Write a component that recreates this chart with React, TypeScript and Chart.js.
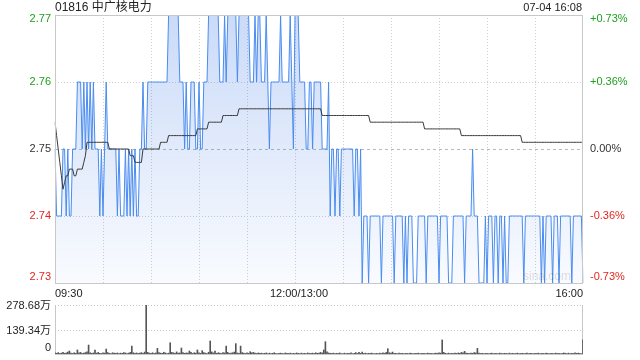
import React, { useEffect, useRef } from "react";
import { Chart, registerables } from "chart.js";

Chart.register(...registerables);

const title = "01816 中广核电力";
const stamp = "07-04 16:08";
const prevClose = 2.75;
const priceTicks = [2.77, 2.76, 2.75, 2.74, 2.73];
const pctLabels = ["+0.73%", "+0.36%", "0.00%", "-0.36%", "-0.73%"];
const volTicks = [278.68, 139.34, 0];
const volLabels = ["278.68万", "139.34万", "0"];
const xLabels = ["09:30", "12:00/13:00", "16:00"];
const xLabelIdx = [0, 150, 330];
const gridIdx = [30, 60, 90, 120, 150, 180, 210, 240, 270, 300];

// minute labels 09:30..12:00, 13:01..16:00
const times: string[] = [];
for (let m = 570; m <= 960; m++) {
  if (m > 720 && m <= 780) continue;
  const h = Math.floor(m / 60);
  const mm = m % 60;
  times.push(String(h).padStart(2, "0") + ":" + String(mm).padStart(2, "0"));
}

const price = [
  2.75, 2.74, 2.74, 2.74, 2.74, 2.75, 2.75, 2.74, 2.75, 2.74,
  2.74, 2.75, 2.75, 2.75, 2.76, 2.76, 2.76, 2.75, 2.76, 2.75,
  2.76, 2.75, 2.76, 2.75, 2.76, 2.75, 2.75, 2.75, 2.74, 2.75,
  2.74, 2.75, 2.76, 2.75, 2.75, 2.75, 2.75, 2.75, 2.75, 2.74,
  2.75, 2.74, 2.74, 2.74, 2.75, 2.74, 2.75, 2.74, 2.75, 2.74,
  2.75, 2.74, 2.74, 2.75, 2.75, 2.76, 2.75, 2.75, 2.76, 2.76,
  2.76, 2.76, 2.76, 2.76, 2.76, 2.76, 2.76, 2.76, 2.76, 2.76,
  2.76, 2.77, 2.77, 2.77, 2.77, 2.77, 2.77, 2.77, 2.76, 2.76,
  2.76, 2.75, 2.76, 2.75, 2.75, 2.76, 2.76, 2.76, 2.75, 2.75,
  2.76, 2.75, 2.75, 2.76, 2.76, 2.76, 2.77, 2.77, 2.77, 2.77,
  2.77, 2.77, 2.77, 2.76, 2.76, 2.76, 2.77, 2.76, 2.77, 2.77,
  2.77, 2.77, 2.77, 2.77, 2.76, 2.77, 2.77, 2.77, 2.77, 2.77,
  2.77, 2.77, 2.76, 2.76, 2.76, 2.77, 2.76, 2.77, 2.77, 2.76,
  2.76, 2.76, 2.77, 2.76, 2.75, 2.76, 2.76, 2.76, 2.76, 2.76,
  2.76, 2.77, 2.76, 2.76, 2.76, 2.76, 2.76, 2.77, 2.76, 2.75,
  2.77, 2.77, 2.77, 2.76, 2.76, 2.76, 2.76, 2.75, 2.75, 2.76,
  2.76, 2.75, 2.76, 2.76, 2.76, 2.76, 2.76, 2.75, 2.75, 2.75,
  2.75, 2.76, 2.74, 2.75, 2.75, 2.74, 2.75, 2.75, 2.74, 2.75,
  2.75, 2.75, 2.75, 2.75, 2.75, 2.75, 2.75, 2.74, 2.75, 2.75,
  2.74, 2.75, 2.73, 2.74, 2.74, 2.74, 2.73, 2.74, 2.74, 2.74,
  2.74, 2.74, 2.74, 2.74, 2.73, 2.74, 2.74, 2.74, 2.74, 2.74,
  2.74, 2.74, 2.73, 2.74, 2.74, 2.74, 2.74, 2.74, 2.73, 2.74,
  2.73, 2.74, 2.74, 2.74, 2.73, 2.73, 2.73, 2.74, 2.74, 2.74,
  2.74, 2.74, 2.73, 2.74, 2.74, 2.74, 2.74, 2.74, 2.74, 2.74,
  2.73, 2.74, 2.74, 2.74, 2.74, 2.74, 2.73, 2.73, 2.73, 2.74,
  2.74, 2.74, 2.74, 2.74, 2.74, 2.74, 2.73, 2.74, 2.74, 2.74,
  2.74, 2.75, 2.74, 2.74, 2.74, 2.73, 2.73, 2.73, 2.73, 2.74,
  2.73, 2.74, 2.74, 2.74, 2.73, 2.74, 2.74, 2.73, 2.74, 2.74,
  2.73, 2.74, 2.73, 2.73, 2.74, 2.74, 2.74, 2.74, 2.74, 2.74,
  2.74, 2.74, 2.74, 2.73, 2.74, 2.74, 2.74, 2.74, 2.74, 2.74,
  2.74, 2.74, 2.74, 2.74, 2.73, 2.74, 2.73, 2.74, 2.74, 2.74,
  2.74, 2.73, 2.74, 2.74, 2.74, 2.73, 2.74, 2.74, 2.74, 2.74,
  2.74, 2.74, 2.74, 2.73, 2.74, 2.74, 2.74, 2.74, 2.74, 2.74,
  2.73,
];

const avgPrice = [
  2.754, 2.752, 2.750, 2.748, 2.746, 2.744, 2.745, 2.746, 2.746, 2.747,
  2.747, 2.747, 2.746, 2.746, 2.747, 2.747, 2.747, 2.747, 2.748, 2.749,
  2.751, 2.751, 2.751, 2.751, 2.751, 2.751, 2.751, 2.751, 2.751, 2.751,
  2.751, 2.751, 2.751, 2.751, 2.750, 2.750, 2.750, 2.750, 2.750, 2.750,
  2.750, 2.750, 2.750, 2.750, 2.750, 2.750, 2.750, 2.749, 2.749, 2.749,
  2.748, 2.748, 2.748, 2.748, 2.748, 2.750, 2.750, 2.750, 2.750, 2.750,
  2.750, 2.750, 2.750, 2.750, 2.750, 2.750, 2.751, 2.751, 2.751, 2.751,
  2.751, 2.752, 2.752, 2.752, 2.752, 2.752, 2.752, 2.752, 2.752, 2.752,
  2.752, 2.752, 2.752, 2.752, 2.752, 2.752, 2.752, 2.752, 2.752, 2.753,
  2.753, 2.753, 2.753, 2.753, 2.753, 2.753, 2.754, 2.754, 2.754, 2.754,
  2.754, 2.754, 2.754, 2.754, 2.754, 2.755, 2.755, 2.755, 2.755, 2.755,
  2.755, 2.755, 2.755, 2.755, 2.755, 2.756, 2.756, 2.756, 2.756, 2.756,
  2.756, 2.756, 2.756, 2.756, 2.756, 2.756, 2.756, 2.756, 2.756, 2.756,
  2.756, 2.756, 2.756, 2.756, 2.756, 2.756, 2.756, 2.756, 2.756, 2.756,
  2.756, 2.756, 2.756, 2.756, 2.756, 2.756, 2.756, 2.756, 2.756, 2.756,
  2.756, 2.756, 2.756, 2.756, 2.756, 2.756, 2.756, 2.756, 2.756, 2.756,
  2.756, 2.756, 2.756, 2.756, 2.756, 2.756, 2.756, 2.755, 2.755, 2.755,
  2.755, 2.755, 2.755, 2.755, 2.755, 2.755, 2.755, 2.755, 2.755, 2.755,
  2.755, 2.755, 2.755, 2.755, 2.755, 2.755, 2.755, 2.755, 2.755, 2.755,
  2.755, 2.755, 2.755, 2.755, 2.755, 2.755, 2.755, 2.754, 2.754, 2.754,
  2.754, 2.754, 2.754, 2.754, 2.754, 2.754, 2.754, 2.754, 2.754, 2.754,
  2.754, 2.754, 2.754, 2.754, 2.754, 2.754, 2.754, 2.754, 2.754, 2.754,
  2.754, 2.754, 2.754, 2.754, 2.754, 2.754, 2.754, 2.754, 2.754, 2.754,
  2.754, 2.753, 2.753, 2.753, 2.753, 2.753, 2.753, 2.753, 2.753, 2.753,
  2.753, 2.753, 2.753, 2.753, 2.753, 2.753, 2.753, 2.753, 2.753, 2.753,
  2.753, 2.753, 2.753, 2.753, 2.752, 2.752, 2.752, 2.752, 2.752, 2.752,
  2.752, 2.752, 2.752, 2.752, 2.752, 2.752, 2.752, 2.752, 2.752, 2.752,
  2.752, 2.752, 2.752, 2.752, 2.752, 2.752, 2.752, 2.752, 2.752, 2.752,
  2.752, 2.752, 2.752, 2.752, 2.752, 2.752, 2.752, 2.752, 2.752, 2.752,
  2.752, 2.752, 2.751, 2.751, 2.751, 2.751, 2.751, 2.751, 2.751, 2.751,
  2.751, 2.751, 2.751, 2.751, 2.751, 2.751, 2.751, 2.751, 2.751, 2.751,
  2.751, 2.751, 2.751, 2.751, 2.751, 2.751, 2.751, 2.751, 2.751, 2.751,
  2.751, 2.751, 2.751, 2.751, 2.751, 2.751, 2.751, 2.751, 2.751, 2.751,
  2.751,
];

// volume in 万
const volume = [
  6, 4, 8, 3, 5, 9, 4, 6, 11, 17,
  5, 3, 7, 4, 23, 6, 9, 3, 5, 8,
  12, 51, 7, 4, 6, 23, 5, 9, 4, 3,
  6, 5, 28, 8, 4, 3, 7, 5, 4, 6,
  3, 5, 4, 8, 6, 3, 5, 9, 45, 7,
  4, 6, 3, 5, 8, 4, 11, 278.68, 9, 5,
  4, 7, 3, 6, 32, 8, 5, 4, 10, 6,
  3, 5, 64, 9, 7, 4, 12, 5, 6, 34,
  8, 4, 6, 5, 17, 9, 3, 7, 5, 23,
  6, 4, 19, 8, 5, 3, 10, 74, 12, 6,
  17, 4, 7, 5, 3, 8, 6, 45, 9, 4,
  5, 7, 11, 59, 6, 4, 45, 8, 5, 3,
  6, 4, 13, 7, 9, 5, 3, 6, 4, 5,
  3, 4, 6, 2, 5, 3, 4, 7, 3, 2,
  4, 5, 3, 2, 6, 4, 3, 5, 2, 4,
  3, 6, 4, 2, 5, 3, 4, 2, 6, 3,
  4, 5, 3, 7, 4, 5, 9, 6, 23, 70,
  12, 6, 4, 3, 5, 2, 4, 3, 6, 2,
  3, 5, 2, 4, 3, 6, 2, 4, 8, 3,
  10, 4, 11, 3, 5, 2, 4, 3, 5, 2,
  3, 4, 2, 5, 3, 6, 4, 9, 30, 7,
  5, 11, 3, 4, 2, 5, 3, 4, 2, 3,
  4, 2, 5, 3, 2, 4, 3, 5, 2, 3,
  4, 3, 2, 5, 3, 4, 2, 3, 5, 4,
  6, 5, 80, 9, 4, 3, 5, 2, 4, 3,
  5, 3, 6, 4, 9, 7, 15, 5, 4, 3,
  5, 4, 8, 6, 32, 5, 3, 4, 2, 3,
  4, 2, 3, 5, 2, 4, 3, 2, 5, 3,
  2, 4, 3, 2, 5, 3, 4, 2, 3, 5,
  2, 3, 4, 2, 3, 5, 2, 4, 3, 2,
  4, 3, 5, 2, 3, 4, 2, 5, 3, 2,
  4, 3, 2, 5, 3, 4, 2, 3, 6, 4,
  3, 5, 2, 4, 3, 6, 4, 5, 3, 2,
  80,
];

const FONT = '"Liberation Sans", Arial, "Noto Sans CJK SC", sans-serif';
const GREEN = "#1f9f1f";
const RED = "#e3261f";
const DARK = "#333333";

function colorFor(v: number) {
  if (v > prevClose + 1e-9) return GREEN;
  if (v < prevClose - 1e-9) return RED;
  return DARK;
}

function labelOffset(i: number, n: number) {
  if (i === 0) return 4;
  if (i === n - 1) return -6;
  return 0;
}

const pricePlugin = {
  id: "priceDecor",
  beforeDatasetsDraw(chart: any) {
    const { ctx, chartArea: a, scales } = chart;
    const x = scales.x;
    const y = scales.y;
    ctx.save();
    ctx.lineWidth = 1;
    priceTicks.forEach((v) => {
      if (v === priceTicks[0] || v === priceTicks[priceTicks.length - 1]) return;
      const py = Math.round(y.getPixelForValue(v)) + 0.5;
      if (v === prevClose) {
        ctx.strokeStyle = "#b8b8b8";
        ctx.setLineDash([3, 3]);
      } else {
        ctx.strokeStyle = "#cfcfcf";
        ctx.setLineDash([1, 2]);
      }
      ctx.beginPath();
      ctx.moveTo(a.left, py);
      ctx.lineTo(a.right, py);
      ctx.stroke();
    });
    ctx.strokeStyle = "#cfcfcf";
    ctx.setLineDash([1, 2]);
    gridIdx.forEach((i) => {
      const px = Math.round(x.getPixelForValue(i)) + 0.5;
      ctx.beginPath();
      ctx.moveTo(px, a.top);
      ctx.lineTo(px, a.bottom);
      ctx.stroke();
    });
    ctx.restore();
  },
  afterDraw(chart: any) {
    const { ctx, chartArea: a, scales } = chart;
    const x = scales.x;
    const y = scales.y;
    ctx.save();
    ctx.setLineDash([]);
    ctx.strokeStyle = "#c8c8c8";
    ctx.lineWidth = 1;
    ctx.strokeRect(Math.round(a.left) + 0.5, Math.round(a.top) + 0.5, Math.round(a.right - a.left) - 1, Math.round(a.bottom - a.top));

    // watermark
    ctx.font = "12px " + FONT;
    ctx.fillStyle = "rgba(0,0,0,0.13)";
    ctx.textAlign = "right";
    ctx.textBaseline = "middle";
    ctx.fillText("sina.com", a.right - 12, a.bottom - 6);

    // title
    ctx.font = "12px " + FONT;
    ctx.fillStyle = "#222";
    ctx.textAlign = "left";
    ctx.fillText(title, a.left, 8);
    ctx.font = "11px " + FONT;
    ctx.textAlign = "right";
    ctx.fillText(stamp, a.right - 1, 8);

    // price axis labels
    ctx.font = "11px " + FONT;
    priceTicks.forEach((v, i) => {
      const py = y.getPixelForValue(v) + labelOffset(i, priceTicks.length);
      ctx.fillStyle = colorFor(v);
      ctx.textAlign = "right";
      ctx.fillText(v.toFixed(2), a.left - 4, py);
      ctx.textAlign = "left";
      ctx.fillText(pctLabels[i], a.right + 7, py);
    });

    // time labels
    ctx.fillStyle = "#222";
    xLabels.forEach((t, k) => {
      const px = x.getPixelForValue(xLabelIdx[k]);
      ctx.textAlign = k === 0 ? "left" : k === xLabels.length - 1 ? "right" : "center";
      ctx.fillText(t, k === 1 ? px + 4 : px, a.bottom + 11);
    });
    ctx.restore();
  },
};

const volPlugin = {
  id: "volDecor",
  beforeDatasetsDraw(chart: any) {
    const { ctx, chartArea: a, scales } = chart;
    const y = scales.y;
    ctx.save();
    ctx.lineWidth = 1;
    ctx.strokeStyle = "#c8c8c8";
    ctx.setLineDash([1, 2]);
    volTicks.slice(0, 2).forEach((v) => {
      const py = Math.round(y.getPixelForValue(v)) + 0.5;
      ctx.beginPath();
      ctx.moveTo(a.left, py);
      ctx.lineTo(a.right, py);
      ctx.stroke();
    });
    ctx.setLineDash([]);
    ctx.beginPath();
    ctx.moveTo(Math.round(a.left) + 0.5, a.top);
    ctx.lineTo(Math.round(a.left) + 0.5, a.bottom);
    ctx.moveTo(Math.round(a.right) - 0.5, a.top);
    ctx.lineTo(Math.round(a.right) - 0.5, a.bottom);
    ctx.moveTo(a.left, Math.round(a.bottom) + 0.5);
    ctx.lineTo(a.right, Math.round(a.bottom) + 0.5);
    ctx.stroke();
    ctx.restore();
  },
  afterDraw(chart: any) {
    const { ctx, chartArea: a, scales } = chart;
    const y = scales.y;
    ctx.save();
    ctx.font = "11px " + FONT;
    ctx.fillStyle = "#222";
    ctx.textAlign = "right";
    ctx.textBaseline = "middle";
    volTicks.forEach((v, i) => {
      const off = i === volTicks.length - 1 ? -6 : 1;
      ctx.fillText(volLabels[i], a.left - 4, y.getPixelForValue(v) + off);
    });
    ctx.restore();
  },
};

export default function App() {
  const priceRef = useRef<HTMLCanvasElement>(null);
  const volRef = useRef<HTMLCanvasElement>(null);

  useEffect(() => {
    const pc = new Chart(priceRef.current as HTMLCanvasElement, {
      type: "line",
      data: {
        labels: times,
        datasets: [
          {
            data: avgPrice,
            borderColor: "#3a3a3a",
            borderWidth: 1,
            pointRadius: 0,
            fill: false,
            tension: 0,
          },
          {
            data: price,
            borderColor: "#4a8cf0",
            borderWidth: 1,
            pointRadius: 0,
            tension: 0,
            fill: "start",
            backgroundColor: (c: any) => {
              const area = c.chart.chartArea;
              if (!area) return "rgba(70,130,230,0.15)";
              const g = c.chart.ctx.createLinearGradient(0, area.top, 0, area.bottom);
              g.addColorStop(0, "rgba(60,120,230,0.27)");
              g.addColorStop(1, "rgba(60,120,230,0.03)");
              return g;
            },
          },
        ],
      },
      options: {
        responsive: false,
        maintainAspectRatio: false,
        animation: false,
        layout: { padding: { left: 55, right: 57, top: 15, bottom: 17 } },
        plugins: { legend: { display: false }, tooltip: { enabled: false } },
        scales: {
          x: { type: "category", display: false, offset: false },
          y: { display: false, min: priceTicks[priceTicks.length - 1], max: priceTicks[0] },
        },
      },
      plugins: [pricePlugin],
    } as any);

    const vc = new Chart(volRef.current as HTMLCanvasElement, {
      type: "bar",
      data: {
        labels: times,
        datasets: [
          {
            data: volume,
            backgroundColor: "#555555",
            barThickness: 1,
          },
        ],
      },
      options: {
        responsive: false,
        maintainAspectRatio: false,
        animation: false,
        layout: { padding: { left: 55, right: 57, top: 5, bottom: 6 } },
        plugins: { legend: { display: false }, tooltip: { enabled: false } },
        scales: {
          x: { type: "category", display: false, offset: false },
          y: { display: false, min: 0, max: volTicks[0] },
        },
      },
      plugins: [volPlugin],
    } as any);

    return () => {
      pc.destroy();
      vc.destroy();
    };
  }, []);

  return (
    <div style={{ position: "fixed", left: 0, top: 0, width: 640, height: 360, background: "#fff" }}>
      <canvas ref={priceRef} width={640} height={300} style={{ position: "absolute", left: 0, top: 0, width: 640, height: 300 }} />
      <canvas ref={volRef} width={640} height={60} style={{ position: "absolute", left: 0, top: 300, width: 640, height: 60 }} />
    </div>
  );
}
